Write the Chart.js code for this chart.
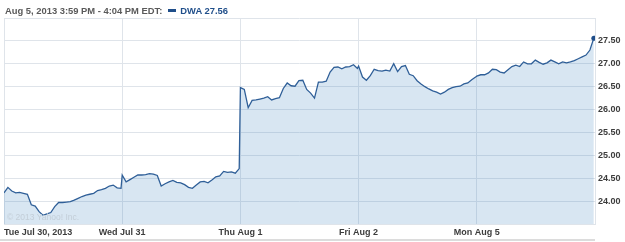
<!DOCTYPE html>
<html>
<head>
<meta charset="utf-8">
<script src="https://cdn.jsdelivr.net/npm/chart.js@4"></script>
<style>
  body { margin: 0; background: #fff; }
  #wrap { position: relative; width: 625px; height: 242px; }
  #head { position: absolute; left: 5px; top: 5px; font: bold 9.4px "Liberation Sans", Arial, sans-serif; color: #5a5a5a; white-space: nowrap; }
  #head .sw { display: inline-block; width: 8px; height: 3px; background: #1f4e8a; margin: 0 4px 0 6px; vertical-align: 2px; }
  #head .dwa { color: #1f4e8a; }
  #copy { position: absolute; left: 7px; top: 212px; font: 8.5px "Liberation Sans", Arial, sans-serif; color: #c3ced8; }
</style>
</head>
<body>
<div id="wrap">
  <canvas id="stock" width="625" height="242"></canvas>
  <div id="head">Aug 5, 2013 3:59 PM - 4:04 PM EDT:<span class="sw"></span><span class="dwa">DWA 27.56</span></div>
  <div id="copy">&copy; 2013 Yahoo! Inc.</div>
</div>
<script>
const dayLabels = ["Tue Jul 30, 2013", "Wed Jul 31", "Thu Aug 1", "Fri Aug 2", "Mon Aug 5"];

// intraday prices, one list per session (evenly spaced)
const tueJul30 = [24.18, 24.30, 24.22, 24.18, 24.19, 24.17, 24.15, 23.92, 23.89, 23.77, 23.69, 23.72, 23.75, 23.88, 23.97, 23.97,
  23.98, 23.99, 24.02, 24.06, 24.10, 24.13, 24.15, 24.17, 24.23, 24.25, 24.28, 24.33, 24.35, 24.29, 24.28];
const wedJul31 = [24.57, 24.42, 24.47, 24.52, 24.57, 24.57, 24.58, 24.60, 24.59, 24.56, 24.33, 24.38, 24.42, 24.45, 24.41, 24.40,
  24.36, 24.30, 24.28, 24.35, 24.42, 24.43, 24.40, 24.46, 24.53, 24.55, 24.65, 24.63, 24.64, 24.61, 24.71];
const thuAug1 = [26.48, 26.44, 26.04, 26.20, 26.21, 26.23, 26.25, 26.28, 26.21, 26.24, 26.26, 26.46, 26.58, 26.52, 26.51, 26.63,
  26.64, 26.44, 26.36, 26.25, 26.60, 26.60, 26.62, 26.82, 26.92, 26.93, 26.89, 26.93, 26.94, 26.98, 26.90];
const friAug2 = [26.95, 26.71, 26.64, 26.74, 26.88, 26.85, 26.84, 26.86, 26.84, 27.00, 26.83, 26.94, 26.96, 26.77, 26.74, 26.63,
  26.56, 26.50, 26.45, 26.41, 26.38, 26.34, 26.38, 26.44, 26.48, 26.50, 26.51, 26.56, 26.58, 26.65, 26.71];
const monAug5 = [26.73, 26.76, 26.76, 26.80, 26.88, 26.87, 26.82, 26.80, 26.87, 26.94, 26.97, 26.94, 27.04, 27.00, 27.00, 27.08,
  27.03, 26.99, 27.02, 27.08, 27.04, 27.00, 27.04, 27.02, 27.04, 27.07, 27.11, 27.15, 27.19, 27.30, 27.56];

const sessions = [tueJul30, wedJul31, thuAug1, friAug2, monAug5];

const points = [];
sessions.forEach(function (vals, d) {
  vals.forEach(function (v, i) {
    points.push({ x: d + i / (vals.length - 1) * 0.99, y: v });
  });
});
const lastIdx = points.length - 1;

const gridColor = "#dfe4ea";
const tickFont = { family: "'Liberation Sans', Arial, sans-serif", size: 9, weight: "bold" };

const bottomBar = {
  id: "bottomBar",
  afterDraw(chart) {
    const c = chart.ctx;
    c.save();
    c.fillStyle = "#dcdcdc";
    c.fillRect(0, 239, 595, 2);
    c.restore();
  }
};

new Chart(document.getElementById("stock"), {
  type: "line",
  data: {
    datasets: [{
      label: "DWA",
      data: points,
      borderColor: "#2f5f98",
      borderWidth: 1.3,
      backgroundColor: "rgba(60,130,190,0.2)",
      fill: "start",
      tension: 0,
      pointRadius: function (ctx) { return ctx.dataIndex === lastIdx ? 2.5 : 0; },
      pointBackgroundColor: "#1f4e8a",
      pointBorderWidth: 0
    }]
  },
  options: {
    responsive: false,
    animation: false,
    layout: { padding: { left: 3, top: 18, right: 0, bottom: 0 } },
    plugins: { legend: { display: false }, tooltip: { enabled: false } },
    scales: {
      x: {
        type: "linear",
        min: 0,
        max: 5,
        afterFit: function (s) { s.height = 18; },
        grid: { color: gridColor, drawTicks: false },
        border: { color: gridColor },
        ticks: {
          stepSize: 1,
          autoSkip: false,
          maxRotation: 0,
          align: "inner",
          padding: 3,
          color: "#3c3c3c",
          font: tickFont,
          callback: function (v) { return dayLabels[v] || ""; }
        }
      },
      y: {
        position: "right",
        min: 23.5,
        max: 28,
        afterFit: function (s) { s.width = 30; },
        grid: { color: gridColor, drawTicks: false },
        border: { color: gridColor },
        ticks: {
          stepSize: 0.5,
          padding: 3,
          color: "#3c3c3c",
          font: tickFont,
          callback: function (v) { return (v > 23.6 && v < 27.9) ? v.toFixed(2) : ""; }
        }
      }
    }
  },
  plugins: [bottomBar]
});
</script>
</body>
</html>
